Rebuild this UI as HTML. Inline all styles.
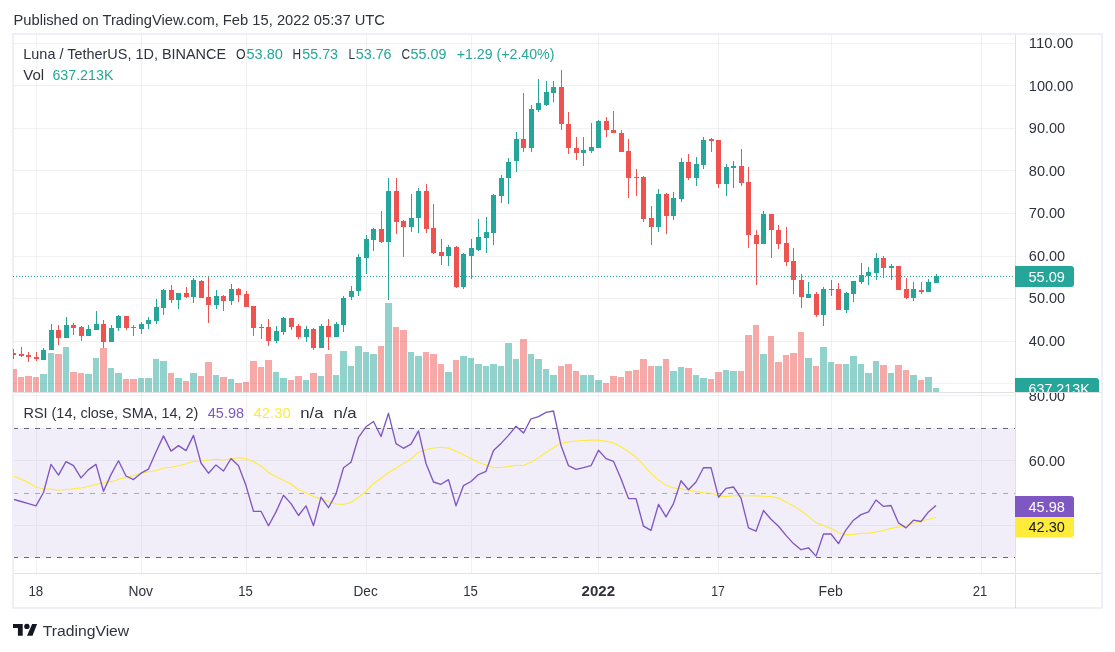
<!DOCTYPE html>
<html><head><meta charset="utf-8"><style>
html,body{margin:0;padding:0;background:#fff;width:1115px;height:652px;overflow:hidden;position:relative}
svg text{font-family:"Liberation Sans", sans-serif}
</style></head><body>
<svg width="1115" height="652" viewBox="0 0 1115 652" style="position:absolute;left:0;top:0;will-change:transform" shape-rendering="crispEdges"><rect x="0" y="0" width="1115" height="652" fill="#ffffff"/><rect x="14" y="428" width="1001" height="130" fill="#f2eef9"/><line x1="14" y1="43.5" x2="1015" y2="43.5" stroke="rgba(42,46,57,0.065)" stroke-width="1"/><line x1="14" y1="85.5" x2="1015" y2="85.5" stroke="rgba(42,46,57,0.065)" stroke-width="1"/><line x1="14" y1="128.5" x2="1015" y2="128.5" stroke="rgba(42,46,57,0.065)" stroke-width="1"/><line x1="14" y1="170.5" x2="1015" y2="170.5" stroke="rgba(42,46,57,0.065)" stroke-width="1"/><line x1="14" y1="213.5" x2="1015" y2="213.5" stroke="rgba(42,46,57,0.065)" stroke-width="1"/><line x1="14" y1="256.5" x2="1015" y2="256.5" stroke="rgba(42,46,57,0.065)" stroke-width="1"/><line x1="14" y1="298.5" x2="1015" y2="298.5" stroke="rgba(42,46,57,0.065)" stroke-width="1"/><line x1="14" y1="341.5" x2="1015" y2="341.5" stroke="rgba(42,46,57,0.065)" stroke-width="1"/><line x1="14" y1="383.5" x2="1015" y2="383.5" stroke="rgba(42,46,57,0.065)" stroke-width="1"/><line x1="14" y1="395.5" x2="1015" y2="395.5" stroke="rgba(42,46,57,0.065)" stroke-width="1"/><line x1="14" y1="460.5" x2="1015" y2="460.5" stroke="#e6e2ee" stroke-width="1"/><line x1="14" y1="525.5" x2="1015" y2="525.5" stroke="#e6e2ee" stroke-width="1"/><line x1="36.5" y1="35" x2="36.5" y2="573" stroke="rgba(42,46,57,0.065)" stroke-width="1"/><line x1="141.5" y1="35" x2="141.5" y2="573" stroke="rgba(42,46,57,0.065)" stroke-width="1"/><line x1="246.5" y1="35" x2="246.5" y2="573" stroke="rgba(42,46,57,0.065)" stroke-width="1"/><line x1="366.5" y1="35" x2="366.5" y2="573" stroke="rgba(42,46,57,0.065)" stroke-width="1"/><line x1="471.5" y1="35" x2="471.5" y2="573" stroke="rgba(42,46,57,0.065)" stroke-width="1"/><line x1="598.5" y1="35" x2="598.5" y2="573" stroke="rgba(42,46,57,0.065)" stroke-width="1"/><line x1="718.5" y1="35" x2="718.5" y2="573" stroke="rgba(42,46,57,0.065)" stroke-width="1"/><line x1="831.5" y1="35" x2="831.5" y2="573" stroke="rgba(42,46,57,0.065)" stroke-width="1"/><line x1="981.5" y1="35" x2="981.5" y2="573" stroke="rgba(42,46,57,0.065)" stroke-width="1"/><line x1="36.5" y1="428" x2="36.5" y2="558" stroke="#e6e2ee" stroke-width="1"/><line x1="141.5" y1="428" x2="141.5" y2="558" stroke="#e6e2ee" stroke-width="1"/><line x1="246.5" y1="428" x2="246.5" y2="558" stroke="#e6e2ee" stroke-width="1"/><line x1="366.5" y1="428" x2="366.5" y2="558" stroke="#e6e2ee" stroke-width="1"/><line x1="471.5" y1="428" x2="471.5" y2="558" stroke="#e6e2ee" stroke-width="1"/><line x1="598.5" y1="428" x2="598.5" y2="558" stroke="#e6e2ee" stroke-width="1"/><line x1="718.5" y1="428" x2="718.5" y2="558" stroke="#e6e2ee" stroke-width="1"/><line x1="831.5" y1="428" x2="831.5" y2="558" stroke="#e6e2ee" stroke-width="1"/><line x1="981.5" y1="428" x2="981.5" y2="558" stroke="#e6e2ee" stroke-width="1"/><line x1="1015.5" y1="35" x2="1015.5" y2="608" stroke="#e0e1e6" stroke-width="1"/><line x1="14" y1="392.5" x2="1101" y2="392.5" stroke="#e0e1e6" stroke-width="1"/><line x1="14" y1="573.5" x2="1101" y2="573.5" stroke="#e0e1e6" stroke-width="1"/><defs><clipPath id="cm"><rect x="13" y="35" width="1002" height="357"/></clipPath><clipPath id="cr"><rect x="14" y="393" width="1001" height="180"/></clipPath><clipPath id="ca"><rect x="1015" y="35" width="87" height="357"/></clipPath><clipPath id="cra"><rect x="1016" y="393" width="86" height="180"/></clipPath></defs><g clip-path="url(#cm)"><rect x="10" y="369" width="7" height="23" fill="rgba(239,83,80,0.5)"/><rect x="18" y="377" width="6" height="15" fill="rgba(239,83,80,0.5)"/><rect x="25" y="376" width="7" height="16" fill="rgba(239,83,80,0.5)"/><rect x="33" y="377" width="6" height="15" fill="rgba(239,83,80,0.5)"/><rect x="40" y="374" width="7" height="18" fill="rgba(38,166,154,0.5)"/><rect x="48" y="353" width="6" height="39" fill="rgba(38,166,154,0.5)"/><rect x="55" y="354" width="7" height="38" fill="rgba(239,83,80,0.5)"/><rect x="63" y="347" width="6" height="45" fill="rgba(38,166,154,0.5)"/><rect x="70" y="372" width="7" height="20" fill="rgba(239,83,80,0.5)"/><rect x="78" y="373" width="6" height="19" fill="rgba(239,83,80,0.5)"/><rect x="85" y="374" width="7" height="18" fill="rgba(38,166,154,0.5)"/><rect x="93" y="358" width="6" height="34" fill="rgba(38,166,154,0.5)"/><rect x="100" y="348" width="7" height="44" fill="rgba(239,83,80,0.5)"/><rect x="108" y="368" width="6" height="24" fill="rgba(38,166,154,0.5)"/><rect x="115" y="373" width="7" height="19" fill="rgba(38,166,154,0.5)"/><rect x="123" y="379" width="6" height="13" fill="rgba(239,83,80,0.5)"/><rect x="130" y="379" width="7" height="13" fill="rgba(239,83,80,0.5)"/><rect x="138" y="378" width="6" height="14" fill="rgba(38,166,154,0.5)"/><rect x="145" y="378" width="7" height="14" fill="rgba(38,166,154,0.5)"/><rect x="153" y="359" width="6" height="33" fill="rgba(38,166,154,0.5)"/><rect x="160" y="361" width="7" height="31" fill="rgba(38,166,154,0.5)"/><rect x="168" y="373" width="6" height="19" fill="rgba(239,83,80,0.5)"/><rect x="175" y="378" width="7" height="14" fill="rgba(38,166,154,0.5)"/><rect x="183" y="381" width="6" height="11" fill="rgba(239,83,80,0.5)"/><rect x="190" y="373" width="7" height="19" fill="rgba(38,166,154,0.5)"/><rect x="198" y="376" width="6" height="16" fill="rgba(239,83,80,0.5)"/><rect x="205" y="362" width="7" height="30" fill="rgba(239,83,80,0.5)"/><rect x="213" y="375" width="6" height="17" fill="rgba(38,166,154,0.5)"/><rect x="220" y="377" width="7" height="15" fill="rgba(239,83,80,0.5)"/><rect x="228" y="379" width="6" height="13" fill="rgba(38,166,154,0.5)"/><rect x="235" y="383" width="7" height="9" fill="rgba(239,83,80,0.5)"/><rect x="243" y="382" width="6" height="10" fill="rgba(239,83,80,0.5)"/><rect x="250" y="361" width="7" height="31" fill="rgba(239,83,80,0.5)"/><rect x="258" y="367" width="6" height="25" fill="rgba(239,83,80,0.5)"/><rect x="265" y="360" width="7" height="32" fill="rgba(239,83,80,0.5)"/><rect x="273" y="372" width="6" height="20" fill="rgba(38,166,154,0.5)"/><rect x="280" y="378" width="7" height="14" fill="rgba(38,166,154,0.5)"/><rect x="288" y="380" width="6" height="12" fill="rgba(239,83,80,0.5)"/><rect x="295" y="376" width="7" height="16" fill="rgba(239,83,80,0.5)"/><rect x="303" y="380" width="6" height="12" fill="rgba(38,166,154,0.5)"/><rect x="310" y="373" width="7" height="19" fill="rgba(239,83,80,0.5)"/><rect x="318" y="376" width="6" height="16" fill="rgba(38,166,154,0.5)"/><rect x="325" y="354" width="7" height="38" fill="rgba(239,83,80,0.5)"/><rect x="333" y="375" width="6" height="17" fill="rgba(38,166,154,0.5)"/><rect x="340" y="351" width="7" height="41" fill="rgba(38,166,154,0.5)"/><rect x="348" y="366" width="6" height="26" fill="rgba(38,166,154,0.5)"/><rect x="355" y="346" width="7" height="46" fill="rgba(38,166,154,0.5)"/><rect x="363" y="352" width="6" height="40" fill="rgba(38,166,154,0.5)"/><rect x="370" y="354" width="7" height="38" fill="rgba(38,166,154,0.5)"/><rect x="378" y="346" width="6" height="46" fill="rgba(239,83,80,0.5)"/><rect x="385" y="303" width="7" height="89" fill="rgba(38,166,154,0.5)"/><rect x="393" y="327" width="6" height="65" fill="rgba(239,83,80,0.5)"/><rect x="400" y="330" width="7" height="62" fill="rgba(239,83,80,0.5)"/><rect x="408" y="352" width="6" height="40" fill="rgba(38,166,154,0.5)"/><rect x="415" y="356" width="7" height="36" fill="rgba(38,166,154,0.5)"/><rect x="423" y="352" width="6" height="40" fill="rgba(239,83,80,0.5)"/><rect x="430" y="354" width="7" height="38" fill="rgba(239,83,80,0.5)"/><rect x="438" y="364" width="6" height="28" fill="rgba(239,83,80,0.5)"/><rect x="445" y="372" width="7" height="20" fill="rgba(38,166,154,0.5)"/><rect x="453" y="360" width="6" height="32" fill="rgba(239,83,80,0.5)"/><rect x="460" y="356" width="7" height="36" fill="rgba(38,166,154,0.5)"/><rect x="468" y="358" width="6" height="34" fill="rgba(38,166,154,0.5)"/><rect x="475" y="364" width="7" height="28" fill="rgba(38,166,154,0.5)"/><rect x="483" y="366" width="6" height="26" fill="rgba(38,166,154,0.5)"/><rect x="490" y="364" width="7" height="28" fill="rgba(38,166,154,0.5)"/><rect x="498" y="366" width="6" height="26" fill="rgba(38,166,154,0.5)"/><rect x="505" y="343" width="7" height="49" fill="rgba(38,166,154,0.5)"/><rect x="513" y="359" width="6" height="33" fill="rgba(38,166,154,0.5)"/><rect x="520" y="339" width="7" height="53" fill="rgba(239,83,80,0.5)"/><rect x="528" y="354" width="6" height="38" fill="rgba(38,166,154,0.5)"/><rect x="535" y="359" width="7" height="33" fill="rgba(38,166,154,0.5)"/><rect x="543" y="369" width="6" height="23" fill="rgba(38,166,154,0.5)"/><rect x="550" y="375" width="7" height="17" fill="rgba(38,166,154,0.5)"/><rect x="558" y="366" width="6" height="26" fill="rgba(239,83,80,0.5)"/><rect x="565" y="364" width="7" height="28" fill="rgba(239,83,80,0.5)"/><rect x="573" y="371" width="6" height="21" fill="rgba(239,83,80,0.5)"/><rect x="580" y="375" width="7" height="17" fill="rgba(38,166,154,0.5)"/><rect x="588" y="375" width="6" height="17" fill="rgba(38,166,154,0.5)"/><rect x="595" y="380" width="7" height="12" fill="rgba(38,166,154,0.5)"/><rect x="603" y="383" width="6" height="9" fill="rgba(239,83,80,0.5)"/><rect x="610" y="376" width="7" height="16" fill="rgba(239,83,80,0.5)"/><rect x="618" y="377" width="6" height="15" fill="rgba(239,83,80,0.5)"/><rect x="625" y="371" width="7" height="21" fill="rgba(239,83,80,0.5)"/><rect x="633" y="370" width="6" height="22" fill="rgba(239,83,80,0.5)"/><rect x="640" y="359" width="7" height="33" fill="rgba(239,83,80,0.5)"/><rect x="648" y="366" width="6" height="26" fill="rgba(239,83,80,0.5)"/><rect x="655" y="366" width="7" height="26" fill="rgba(38,166,154,0.5)"/><rect x="663" y="359" width="6" height="33" fill="rgba(239,83,80,0.5)"/><rect x="670" y="371" width="7" height="21" fill="rgba(38,166,154,0.5)"/><rect x="678" y="367" width="6" height="25" fill="rgba(38,166,154,0.5)"/><rect x="685" y="368" width="7" height="24" fill="rgba(239,83,80,0.5)"/><rect x="693" y="375" width="6" height="17" fill="rgba(38,166,154,0.5)"/><rect x="700" y="378" width="7" height="14" fill="rgba(38,166,154,0.5)"/><rect x="708" y="379" width="6" height="13" fill="rgba(239,83,80,0.5)"/><rect x="715" y="372" width="7" height="20" fill="rgba(239,83,80,0.5)"/><rect x="723" y="370" width="6" height="22" fill="rgba(38,166,154,0.5)"/><rect x="730" y="371" width="7" height="21" fill="rgba(38,166,154,0.5)"/><rect x="738" y="371" width="6" height="21" fill="rgba(239,83,80,0.5)"/><rect x="745" y="335" width="7" height="57" fill="rgba(239,83,80,0.5)"/><rect x="753" y="325" width="6" height="67" fill="rgba(239,83,80,0.5)"/><rect x="760" y="354" width="7" height="38" fill="rgba(38,166,154,0.5)"/><rect x="768" y="336" width="6" height="56" fill="rgba(239,83,80,0.5)"/><rect x="775" y="362" width="7" height="30" fill="rgba(239,83,80,0.5)"/><rect x="783" y="355" width="6" height="37" fill="rgba(239,83,80,0.5)"/><rect x="790" y="353" width="7" height="39" fill="rgba(239,83,80,0.5)"/><rect x="798" y="332" width="6" height="60" fill="rgba(239,83,80,0.5)"/><rect x="805" y="358" width="7" height="34" fill="rgba(38,166,154,0.5)"/><rect x="813" y="366" width="6" height="26" fill="rgba(239,83,80,0.5)"/><rect x="820" y="347" width="7" height="45" fill="rgba(38,166,154,0.5)"/><rect x="828" y="362" width="6" height="30" fill="rgba(38,166,154,0.5)"/><rect x="835" y="364" width="7" height="28" fill="rgba(239,83,80,0.5)"/><rect x="843" y="364" width="6" height="28" fill="rgba(38,166,154,0.5)"/><rect x="850" y="356" width="7" height="36" fill="rgba(38,166,154,0.5)"/><rect x="858" y="364" width="6" height="28" fill="rgba(38,166,154,0.5)"/><rect x="865" y="373" width="7" height="19" fill="rgba(38,166,154,0.5)"/><rect x="873" y="361" width="6" height="31" fill="rgba(38,166,154,0.5)"/><rect x="880" y="365" width="7" height="27" fill="rgba(239,83,80,0.5)"/><rect x="888" y="373" width="6" height="19" fill="rgba(38,166,154,0.5)"/><rect x="895" y="365" width="7" height="27" fill="rgba(239,83,80,0.5)"/><rect x="903" y="370" width="6" height="22" fill="rgba(239,83,80,0.5)"/><rect x="910" y="375" width="7" height="17" fill="rgba(38,166,154,0.5)"/><rect x="918" y="380" width="6" height="12" fill="rgba(239,83,80,0.5)"/><rect x="925" y="377" width="7" height="15" fill="rgba(38,166,154,0.5)"/><rect x="933" y="388" width="6" height="4" fill="rgba(38,166,154,0.5)"/><line x1="13" y1="276.5" x2="1015" y2="276.5" stroke="#26a69a" stroke-width="1" stroke-dasharray="1 2"/><rect x="13" y="349" width="1" height="10" fill="#ef5350"/><rect x="14" y="353" width="2" height="2" fill="#ef5350"/><rect x="21" y="347" width="1" height="10" fill="#ef5350"/><rect x="19" y="354" width="5" height="2" fill="#ef5350"/><rect x="28" y="352" width="1" height="10" fill="#ef5350"/><rect x="26" y="355" width="5" height="2" fill="#ef5350"/><rect x="36" y="352" width="1" height="9" fill="#ef5350"/><rect x="34" y="357" width="5" height="2" fill="#ef5350"/><rect x="43" y="348" width="1" height="12" fill="#26a69a"/><rect x="41" y="350" width="5" height="10" fill="#26a69a"/><rect x="51" y="324" width="1" height="26" fill="#26a69a"/><rect x="49" y="330" width="5" height="20" fill="#26a69a"/><rect x="58" y="325" width="1" height="20" fill="#ef5350"/><rect x="56" y="330" width="5" height="8" fill="#ef5350"/><rect x="66" y="317" width="1" height="21" fill="#26a69a"/><rect x="64" y="325" width="5" height="13" fill="#26a69a"/><rect x="73" y="323" width="1" height="12" fill="#ef5350"/><rect x="71" y="325" width="5" height="3" fill="#ef5350"/><rect x="81" y="326" width="1" height="15" fill="#ef5350"/><rect x="79" y="327" width="5" height="9" fill="#ef5350"/><rect x="88" y="325" width="1" height="11" fill="#26a69a"/><rect x="86" y="329" width="5" height="7" fill="#26a69a"/><rect x="96" y="311" width="1" height="19" fill="#26a69a"/><rect x="94" y="324" width="5" height="6" fill="#26a69a"/><rect x="103" y="320" width="1" height="28" fill="#ef5350"/><rect x="101" y="324" width="5" height="18" fill="#ef5350"/><rect x="111" y="325" width="1" height="17" fill="#26a69a"/><rect x="109" y="328" width="5" height="14" fill="#26a69a"/><rect x="118" y="315" width="1" height="16" fill="#26a69a"/><rect x="116" y="316" width="5" height="12" fill="#26a69a"/><rect x="126" y="316" width="1" height="14" fill="#ef5350"/><rect x="124" y="316" width="5" height="12" fill="#ef5350"/><rect x="133" y="325" width="1" height="11" fill="#ef5350"/><rect x="131" y="327" width="5" height="1" fill="#ef5350"/><rect x="141" y="322" width="1" height="12" fill="#26a69a"/><rect x="139" y="324" width="5" height="5" fill="#26a69a"/><rect x="148" y="317" width="1" height="12" fill="#26a69a"/><rect x="146" y="320" width="5" height="4" fill="#26a69a"/><rect x="156" y="299" width="1" height="25" fill="#26a69a"/><rect x="154" y="307" width="5" height="14" fill="#26a69a"/><rect x="163" y="289" width="1" height="26" fill="#26a69a"/><rect x="161" y="290" width="5" height="18" fill="#26a69a"/><rect x="171" y="285" width="1" height="18" fill="#ef5350"/><rect x="169" y="290" width="5" height="10" fill="#ef5350"/><rect x="178" y="293" width="1" height="16" fill="#26a69a"/><rect x="176" y="293" width="5" height="7" fill="#26a69a"/><rect x="186" y="287" width="1" height="11" fill="#ef5350"/><rect x="184" y="293" width="5" height="4" fill="#ef5350"/><rect x="193" y="278" width="1" height="25" fill="#26a69a"/><rect x="191" y="280" width="5" height="17" fill="#26a69a"/><rect x="201" y="280" width="1" height="18" fill="#ef5350"/><rect x="199" y="281" width="5" height="17" fill="#ef5350"/><rect x="208" y="277" width="1" height="46" fill="#ef5350"/><rect x="206" y="297" width="5" height="8" fill="#ef5350"/><rect x="216" y="290" width="1" height="19" fill="#26a69a"/><rect x="214" y="296" width="5" height="9" fill="#26a69a"/><rect x="223" y="295" width="1" height="16" fill="#ef5350"/><rect x="221" y="296" width="5" height="5" fill="#ef5350"/><rect x="231" y="284" width="1" height="21" fill="#26a69a"/><rect x="229" y="289" width="5" height="12" fill="#26a69a"/><rect x="238" y="288" width="1" height="14" fill="#ef5350"/><rect x="236" y="289" width="5" height="6" fill="#ef5350"/><rect x="246" y="291" width="1" height="16" fill="#ef5350"/><rect x="244" y="294" width="5" height="13" fill="#ef5350"/><rect x="253" y="306" width="1" height="30" fill="#ef5350"/><rect x="251" y="306" width="5" height="22" fill="#ef5350"/><rect x="261" y="324" width="1" height="15" fill="#ef5350"/><rect x="259" y="327" width="5" height="1" fill="#ef5350"/><rect x="268" y="319" width="1" height="27" fill="#ef5350"/><rect x="266" y="327" width="5" height="14" fill="#ef5350"/><rect x="276" y="326" width="1" height="17" fill="#26a69a"/><rect x="274" y="331" width="5" height="10" fill="#26a69a"/><rect x="283" y="317" width="1" height="18" fill="#26a69a"/><rect x="281" y="318" width="5" height="14" fill="#26a69a"/><rect x="291" y="318" width="1" height="12" fill="#ef5350"/><rect x="289" y="318" width="5" height="9" fill="#ef5350"/><rect x="298" y="324" width="1" height="15" fill="#ef5350"/><rect x="296" y="326" width="5" height="11" fill="#ef5350"/><rect x="306" y="326" width="1" height="16" fill="#26a69a"/><rect x="304" y="329" width="5" height="8" fill="#26a69a"/><rect x="313" y="328" width="1" height="22" fill="#ef5350"/><rect x="311" y="329" width="5" height="19" fill="#ef5350"/><rect x="321" y="324" width="1" height="24" fill="#26a69a"/><rect x="319" y="326" width="5" height="22" fill="#26a69a"/><rect x="328" y="319" width="1" height="31" fill="#ef5350"/><rect x="326" y="326" width="5" height="11" fill="#ef5350"/><rect x="336" y="322" width="1" height="15" fill="#26a69a"/><rect x="334" y="324" width="5" height="13" fill="#26a69a"/><rect x="343" y="296" width="1" height="36" fill="#26a69a"/><rect x="341" y="298" width="5" height="27" fill="#26a69a"/><rect x="351" y="286" width="1" height="14" fill="#26a69a"/><rect x="349" y="291" width="5" height="6" fill="#26a69a"/><rect x="358" y="254" width="1" height="42" fill="#26a69a"/><rect x="356" y="257" width="5" height="34" fill="#26a69a"/><rect x="366" y="235" width="1" height="39" fill="#26a69a"/><rect x="364" y="239" width="5" height="19" fill="#26a69a"/><rect x="373" y="228" width="1" height="23" fill="#26a69a"/><rect x="371" y="229" width="5" height="11" fill="#26a69a"/><rect x="381" y="211" width="1" height="32" fill="#ef5350"/><rect x="379" y="229" width="5" height="13" fill="#ef5350"/><rect x="388" y="178" width="1" height="122" fill="#26a69a"/><rect x="386" y="191" width="5" height="51" fill="#26a69a"/><rect x="396" y="178" width="1" height="56" fill="#ef5350"/><rect x="394" y="191" width="5" height="31" fill="#ef5350"/><rect x="403" y="220" width="1" height="37" fill="#ef5350"/><rect x="401" y="221" width="5" height="6" fill="#ef5350"/><rect x="411" y="194" width="1" height="38" fill="#26a69a"/><rect x="409" y="218" width="5" height="9" fill="#26a69a"/><rect x="418" y="188" width="1" height="45" fill="#26a69a"/><rect x="416" y="191" width="5" height="27" fill="#26a69a"/><rect x="426" y="184" width="1" height="49" fill="#ef5350"/><rect x="424" y="191" width="5" height="38" fill="#ef5350"/><rect x="433" y="204" width="1" height="50" fill="#ef5350"/><rect x="431" y="228" width="5" height="25" fill="#ef5350"/><rect x="441" y="239" width="1" height="26" fill="#ef5350"/><rect x="439" y="252" width="5" height="4" fill="#ef5350"/><rect x="448" y="245" width="1" height="21" fill="#26a69a"/><rect x="446" y="247" width="5" height="9" fill="#26a69a"/><rect x="456" y="246" width="1" height="42" fill="#ef5350"/><rect x="454" y="247" width="5" height="40" fill="#ef5350"/><rect x="463" y="253" width="1" height="36" fill="#26a69a"/><rect x="461" y="254" width="5" height="33" fill="#26a69a"/><rect x="471" y="239" width="1" height="40" fill="#26a69a"/><rect x="469" y="248" width="5" height="8" fill="#26a69a"/><rect x="478" y="219" width="1" height="32" fill="#26a69a"/><rect x="476" y="237" width="5" height="13" fill="#26a69a"/><rect x="486" y="217" width="1" height="36" fill="#26a69a"/><rect x="484" y="232" width="5" height="6" fill="#26a69a"/><rect x="493" y="194" width="1" height="51" fill="#26a69a"/><rect x="491" y="195" width="5" height="38" fill="#26a69a"/><rect x="501" y="175" width="1" height="28" fill="#26a69a"/><rect x="499" y="178" width="5" height="18" fill="#26a69a"/><rect x="508" y="158" width="1" height="46" fill="#26a69a"/><rect x="506" y="162" width="5" height="16" fill="#26a69a"/><rect x="516" y="132" width="1" height="40" fill="#26a69a"/><rect x="514" y="139" width="5" height="22" fill="#26a69a"/><rect x="523" y="93" width="1" height="59" fill="#ef5350"/><rect x="521" y="139" width="5" height="9" fill="#ef5350"/><rect x="531" y="105" width="1" height="47" fill="#26a69a"/><rect x="529" y="109" width="5" height="39" fill="#26a69a"/><rect x="538" y="79" width="1" height="33" fill="#26a69a"/><rect x="536" y="103" width="5" height="7" fill="#26a69a"/><rect x="546" y="81" width="1" height="25" fill="#26a69a"/><rect x="544" y="92" width="5" height="13" fill="#26a69a"/><rect x="553" y="81" width="1" height="21" fill="#26a69a"/><rect x="551" y="87" width="5" height="6" fill="#26a69a"/><rect x="561" y="70" width="1" height="60" fill="#ef5350"/><rect x="559" y="87" width="5" height="37" fill="#ef5350"/><rect x="568" y="112" width="1" height="42" fill="#ef5350"/><rect x="566" y="124" width="5" height="24" fill="#ef5350"/><rect x="576" y="137" width="1" height="23" fill="#ef5350"/><rect x="574" y="148" width="5" height="5" fill="#ef5350"/><rect x="583" y="137" width="1" height="29" fill="#26a69a"/><rect x="581" y="150" width="5" height="3" fill="#26a69a"/><rect x="591" y="123" width="1" height="30" fill="#26a69a"/><rect x="589" y="147" width="5" height="4" fill="#26a69a"/><rect x="598" y="120" width="1" height="28" fill="#26a69a"/><rect x="596" y="121" width="5" height="27" fill="#26a69a"/><rect x="606" y="117" width="1" height="20" fill="#ef5350"/><rect x="604" y="121" width="5" height="9" fill="#ef5350"/><rect x="613" y="111" width="1" height="22" fill="#ef5350"/><rect x="611" y="130" width="5" height="3" fill="#ef5350"/><rect x="621" y="130" width="1" height="22" fill="#ef5350"/><rect x="619" y="133" width="5" height="19" fill="#ef5350"/><rect x="628" y="139" width="1" height="59" fill="#ef5350"/><rect x="626" y="151" width="5" height="27" fill="#ef5350"/><rect x="636" y="169" width="1" height="27" fill="#ef5350"/><rect x="634" y="177" width="5" height="1" fill="#ef5350"/><rect x="643" y="176" width="1" height="46" fill="#ef5350"/><rect x="641" y="177" width="5" height="42" fill="#ef5350"/><rect x="651" y="206" width="1" height="39" fill="#ef5350"/><rect x="649" y="218" width="5" height="9" fill="#ef5350"/><rect x="658" y="189" width="1" height="43" fill="#26a69a"/><rect x="656" y="194" width="5" height="33" fill="#26a69a"/><rect x="666" y="193" width="1" height="41" fill="#ef5350"/><rect x="664" y="194" width="5" height="22" fill="#ef5350"/><rect x="673" y="192" width="1" height="28" fill="#26a69a"/><rect x="671" y="198" width="5" height="18" fill="#26a69a"/><rect x="681" y="158" width="1" height="44" fill="#26a69a"/><rect x="679" y="162" width="5" height="37" fill="#26a69a"/><rect x="688" y="154" width="1" height="26" fill="#ef5350"/><rect x="686" y="162" width="5" height="16" fill="#ef5350"/><rect x="696" y="157" width="1" height="29" fill="#26a69a"/><rect x="694" y="164" width="5" height="14" fill="#26a69a"/><rect x="703" y="137" width="1" height="32" fill="#26a69a"/><rect x="701" y="140" width="5" height="25" fill="#26a69a"/><rect x="711" y="138" width="1" height="14" fill="#ef5350"/><rect x="709" y="139" width="5" height="2" fill="#ef5350"/><rect x="718" y="140" width="1" height="48" fill="#ef5350"/><rect x="716" y="140" width="5" height="44" fill="#ef5350"/><rect x="726" y="164" width="1" height="32" fill="#26a69a"/><rect x="724" y="167" width="5" height="17" fill="#26a69a"/><rect x="733" y="161" width="1" height="27" fill="#26a69a"/><rect x="731" y="166" width="5" height="2" fill="#26a69a"/><rect x="741" y="149" width="1" height="37" fill="#ef5350"/><rect x="739" y="166" width="5" height="17" fill="#ef5350"/><rect x="748" y="167" width="1" height="81" fill="#ef5350"/><rect x="746" y="182" width="5" height="53" fill="#ef5350"/><rect x="756" y="230" width="1" height="55" fill="#ef5350"/><rect x="754" y="235" width="5" height="9" fill="#ef5350"/><rect x="763" y="211" width="1" height="33" fill="#26a69a"/><rect x="761" y="214" width="5" height="30" fill="#26a69a"/><rect x="771" y="214" width="1" height="44" fill="#ef5350"/><rect x="769" y="214" width="5" height="16" fill="#ef5350"/><rect x="778" y="225" width="1" height="24" fill="#ef5350"/><rect x="776" y="230" width="5" height="14" fill="#ef5350"/><rect x="786" y="227" width="1" height="39" fill="#ef5350"/><rect x="784" y="243" width="5" height="19" fill="#ef5350"/><rect x="793" y="248" width="1" height="46" fill="#ef5350"/><rect x="791" y="261" width="5" height="19" fill="#ef5350"/><rect x="801" y="274" width="1" height="34" fill="#ef5350"/><rect x="799" y="280" width="5" height="17" fill="#ef5350"/><rect x="808" y="282" width="1" height="16" fill="#26a69a"/><rect x="806" y="294" width="5" height="4" fill="#26a69a"/><rect x="816" y="292" width="1" height="25" fill="#ef5350"/><rect x="814" y="294" width="5" height="21" fill="#ef5350"/><rect x="823" y="287" width="1" height="39" fill="#26a69a"/><rect x="821" y="289" width="5" height="26" fill="#26a69a"/><rect x="831" y="280" width="1" height="16" fill="#26a69a"/><rect x="829" y="289" width="5" height="1" fill="#26a69a"/><rect x="838" y="283" width="1" height="27" fill="#ef5350"/><rect x="836" y="289" width="5" height="21" fill="#ef5350"/><rect x="846" y="292" width="1" height="21" fill="#26a69a"/><rect x="844" y="293" width="5" height="17" fill="#26a69a"/><rect x="853" y="281" width="1" height="21" fill="#26a69a"/><rect x="851" y="281" width="5" height="13" fill="#26a69a"/><rect x="861" y="263" width="1" height="21" fill="#26a69a"/><rect x="859" y="275" width="5" height="7" fill="#26a69a"/><rect x="868" y="267" width="1" height="18" fill="#26a69a"/><rect x="866" y="272" width="5" height="4" fill="#26a69a"/><rect x="876" y="253" width="1" height="27" fill="#26a69a"/><rect x="874" y="258" width="5" height="15" fill="#26a69a"/><rect x="883" y="256" width="1" height="22" fill="#ef5350"/><rect x="881" y="258" width="5" height="10" fill="#ef5350"/><rect x="891" y="264" width="1" height="16" fill="#26a69a"/><rect x="889" y="266" width="5" height="2" fill="#26a69a"/><rect x="898" y="266" width="1" height="24" fill="#ef5350"/><rect x="896" y="266" width="5" height="24" fill="#ef5350"/><rect x="906" y="278" width="1" height="21" fill="#ef5350"/><rect x="904" y="289" width="5" height="9" fill="#ef5350"/><rect x="913" y="282" width="1" height="19" fill="#26a69a"/><rect x="911" y="289" width="5" height="9" fill="#26a69a"/><rect x="921" y="282" width="1" height="12" fill="#ef5350"/><rect x="919" y="290" width="5" height="2" fill="#ef5350"/><rect x="928" y="279" width="1" height="13" fill="#26a69a"/><rect x="926" y="282" width="5" height="10" fill="#26a69a"/><rect x="936" y="274" width="1" height="9" fill="#26a69a"/><rect x="934" y="276" width="5" height="7" fill="#26a69a"/></g><g clip-path="url(#cr)"><line x1="13" y1="428.5" x2="1015" y2="428.5" stroke="#66687a" stroke-width="1" stroke-dasharray="5 6"/><line x1="13" y1="493.5" x2="1015" y2="493.5" stroke="#a9a8b8" stroke-width="1" stroke-dasharray="5 6"/><line x1="13" y1="557.5" x2="1015" y2="557.5" stroke="#66687a" stroke-width="1" stroke-dasharray="5 6"/><path d="M13.3,476.0 L24.9,480.7 L35.9,487.0 L44.2,489.0 L51.1,489.0 L58.0,490.3 L71.8,489.0 L82.9,487.8 L96.7,484.3 L110.5,481.5 L111.0,481.9 L118.5,479.2 L126.0,477.4 L133.5,475.7 L141.0,473.3 L148.5,471.7 L156.0,470.8 L163.5,468.0 L171.0,467.2 L178.5,465.8 L186.0,463.8 L193.5,461.4 L201.0,461.3 L208.5,460.0 L216.0,459.3 L223.5,460.0 L231.0,458.8 L238.5,457.8 L246.0,458.7 L253.5,461.7 L261.0,465.9 L268.5,472.4 L276.0,476.7 L283.5,480.2 L291.0,484.0 L298.5,489.8 L306.0,492.8 L313.5,496.6 L321.0,498.9 L328.5,501.5 L336.0,504.0 L343.5,504.2 L351.0,502.5 L358.5,497.2 L366.0,491.2 L373.5,483.7 L381.0,478.3 L388.5,472.5 L396.0,468.2 L403.5,463.4 L411.0,459.0 L418.5,452.2 L426.0,449.8 L433.5,448.0 L441.0,447.3 L448.5,448.1 L456.0,451.3 L463.5,454.7 L471.0,458.6 L478.5,462.4 L486.0,464.9 L493.5,467.6 L501.0,467.5 L508.5,466.6 L516.0,465.3 L523.5,465.5 L531.0,462.3 L538.5,457.6 L546.0,452.5 L553.5,447.6 L561.0,443.3 L568.5,441.9 L576.0,441.0 L583.5,440.5 L591.0,440.1 L598.5,440.1 L606.0,441.2 L613.5,443.0 L621.0,446.8 L628.5,451.5 L636.0,457.2 L643.5,465.0 L651.0,473.4 L658.5,480.1 L666.0,485.2 L673.5,487.9 L681.0,488.7 L688.5,490.3 L696.0,491.4 L703.5,492.7 L711.0,493.3 L718.5,495.9 L726.0,496.6 L733.5,495.8 L741.0,495.7 L748.5,495.8 L756.0,495.9 L763.5,496.3 L771.0,496.5 L778.5,498.1 L786.0,502.0 L793.5,505.9 L801.0,510.7 L808.5,516.4 L816.0,522.7 L823.5,525.4 L831.0,528.6 L838.5,532.7 L846.0,534.9 L853.5,534.4 L861.0,533.2 L868.5,533.3 L876.0,531.9 L883.5,530.5 L891.0,528.4 L898.5,526.9 L906.0,525.3 L913.5,523.4 L921.0,520.9 L928.5,519.3 L936.0,517.3" fill="none" stroke="#ffeb3b" stroke-width="1.1" shape-rendering="geometricPrecision" stroke-linejoin="round"/><path d="M13.5,499.4 L21.0,501.5 L28.5,503.6 L36.0,505.8 L43.5,492.5 L51.0,464.4 L58.5,475.1 L66.0,461.6 L73.5,465.7 L81.0,477.9 L88.5,469.6 L96.0,464.4 L103.5,491.2 L111.0,474.6 L118.5,460.8 L126.0,476.0 L133.5,479.6 L141.0,473.2 L148.5,469.1 L156.0,452.0 L163.5,435.9 L171.0,451.1 L178.5,445.6 L186.0,450.6 L193.5,435.4 L201.0,463.0 L208.5,473.2 L216.0,464.9 L223.5,471.0 L231.0,458.6 L238.5,465.7 L246.0,485.6 L253.5,511.3 L261.0,511.3 L268.5,525.7 L276.0,511.9 L283.5,495.3 L291.0,503.6 L298.5,515.5 L306.0,505.8 L313.5,525.7 L321.0,497.2 L328.5,507.7 L336.0,493.9 L343.5,467.7 L351.0,462.2 L358.5,437.3 L366.0,426.8 L373.5,421.5 L381.0,436.5 L388.5,413.3 L396.0,443.6 L403.5,448.3 L411.0,444.2 L418.5,430.9 L426.0,463.5 L433.5,482.0 L441.0,484.3 L448.5,479.6 L456.0,505.8 L463.5,485.6 L471.0,481.5 L478.5,474.6 L486.0,471.3 L493.5,450.6 L501.0,443.4 L508.5,435.4 L516.0,426.2 L523.5,433.1 L531.0,418.8 L538.5,416.6 L546.0,412.4 L553.5,411.0 L561.0,445.6 L568.5,465.7 L576.0,469.4 L583.5,467.7 L591.0,465.7 L598.5,450.3 L606.0,458.6 L613.5,461.3 L621.0,478.7 L628.5,498.6 L636.0,498.6 L643.5,526.2 L651.0,530.4 L658.5,504.4 L666.0,516.9 L673.5,503.6 L681.0,480.7 L688.5,489.8 L696.0,482.0 L703.5,467.7 L711.0,467.7 L718.5,497.2 L726.0,488.4 L733.5,487.0 L741.0,498.1 L748.5,527.9 L756.0,531.2 L763.5,510.5 L771.0,519.3 L778.5,526.2 L786.0,535.4 L793.5,543.6 L801.0,549.7 L808.5,547.8 L816.0,556.1 L823.5,534.0 L831.0,534.0 L838.5,543.6 L846.0,529.8 L853.5,520.2 L861.0,514.6 L868.5,511.9 L876.0,500.0 L883.5,506.4 L891.0,505.5 L898.5,522.9 L906.0,527.9 L913.5,520.2 L921.0,521.5 L928.5,511.9 L936.0,505.5" fill="none" stroke="#7e57c2" stroke-width="1.35" shape-rendering="geometricPrecision" stroke-linejoin="round"/></g><g font-family='"Liberation Sans", sans-serif'><text x="13.5" y="24.8" fill="#2e323d" font-size="14.7" font-weight="normal" text-anchor="start" textLength="371.5" lengthAdjust="spacingAndGlyphs" shape-rendering="geometricPrecision">Published on TradingView.com, Feb 15, 2022 05:37 UTC</text><text x="23.3" y="59" fill="#2e323d" font-size="15" font-weight="normal" text-anchor="start" textLength="202.8" lengthAdjust="spacingAndGlyphs" shape-rendering="geometricPrecision">Luna / TetherUS, 1D, BINANCE</text><text x="236.1" y="59" fill="#2e323d" font-size="15" font-weight="normal" text-anchor="start" textLength="9.6" lengthAdjust="spacingAndGlyphs" shape-rendering="geometricPrecision">O</text><text x="246.5" y="59" fill="#26a69a" font-size="15" font-weight="normal" text-anchor="start" textLength="36.4" lengthAdjust="spacingAndGlyphs" shape-rendering="geometricPrecision">53.80</text><text x="292.4" y="59" fill="#2e323d" font-size="15" font-weight="normal" text-anchor="start" textLength="8.6" lengthAdjust="spacingAndGlyphs" shape-rendering="geometricPrecision">H</text><text x="302.2" y="59" fill="#26a69a" font-size="15" font-weight="normal" text-anchor="start" textLength="35.9" lengthAdjust="spacingAndGlyphs" shape-rendering="geometricPrecision">55.73</text><text x="348.5" y="59" fill="#2e323d" font-size="15" font-weight="normal" text-anchor="start" textLength="6.6" lengthAdjust="spacingAndGlyphs" shape-rendering="geometricPrecision">L</text><text x="355.7" y="59" fill="#26a69a" font-size="15" font-weight="normal" text-anchor="start" textLength="35.9" lengthAdjust="spacingAndGlyphs" shape-rendering="geometricPrecision">53.76</text><text x="401.5" y="59" fill="#2e323d" font-size="15" font-weight="normal" text-anchor="start" textLength="8.6" lengthAdjust="spacingAndGlyphs" shape-rendering="geometricPrecision">C</text><text x="410.5" y="59" fill="#26a69a" font-size="15" font-weight="normal" text-anchor="start" textLength="35.9" lengthAdjust="spacingAndGlyphs" shape-rendering="geometricPrecision">55.09</text><text x="456.8" y="59" fill="#26a69a" font-size="15" font-weight="normal" text-anchor="start" textLength="97.6" lengthAdjust="spacingAndGlyphs" shape-rendering="geometricPrecision">+1.29 (+2.40%)</text><text x="23.3" y="79.5" fill="#2e323d" font-size="15" font-weight="normal" text-anchor="start" shape-rendering="geometricPrecision">Vol</text><text x="52.4" y="79.5" fill="#26a69a" font-size="15" font-weight="normal" text-anchor="start" textLength="61" lengthAdjust="spacingAndGlyphs" shape-rendering="geometricPrecision">637.213K</text><text x="23.5" y="417.5" fill="#2e323d" font-size="15" font-weight="normal" text-anchor="start" textLength="174.8" lengthAdjust="spacingAndGlyphs" shape-rendering="geometricPrecision">RSI (14, close, SMA, 14, 2)</text><text x="207.8" y="417.5" fill="#7e57c2" font-size="15" font-weight="normal" text-anchor="start" textLength="36.2" lengthAdjust="spacingAndGlyphs" shape-rendering="geometricPrecision">45.98</text><text x="253.5" y="417.5" fill="#ffeb3b" font-size="15" font-weight="normal" text-anchor="start" textLength="37.2" lengthAdjust="spacingAndGlyphs" shape-rendering="geometricPrecision">42.30</text><text x="300.2" y="417.5" fill="#2e323d" font-size="15" font-weight="normal" text-anchor="start" textLength="23.3" lengthAdjust="spacingAndGlyphs" shape-rendering="geometricPrecision">n/a</text><text x="333.4" y="417.5" fill="#2e323d" font-size="15" font-weight="normal" text-anchor="start" textLength="23.3" lengthAdjust="spacingAndGlyphs" shape-rendering="geometricPrecision">n/a</text><text x="1028.8" y="48.2" fill="#2e323d" font-size="15" font-weight="normal" text-anchor="start" textLength="44.5" lengthAdjust="spacingAndGlyphs" clip-path="url(#ca)" shape-rendering="geometricPrecision">110.00</text><text x="1028.8" y="90.7" fill="#2e323d" font-size="15" font-weight="normal" text-anchor="start" textLength="44.5" lengthAdjust="spacingAndGlyphs" clip-path="url(#ca)" shape-rendering="geometricPrecision">100.00</text><text x="1028.8" y="133.2" fill="#2e323d" font-size="15" font-weight="normal" text-anchor="start" textLength="36.4" lengthAdjust="spacingAndGlyphs" clip-path="url(#ca)" shape-rendering="geometricPrecision">90.00</text><text x="1028.8" y="175.7" fill="#2e323d" font-size="15" font-weight="normal" text-anchor="start" textLength="36.4" lengthAdjust="spacingAndGlyphs" clip-path="url(#ca)" shape-rendering="geometricPrecision">80.00</text><text x="1028.8" y="218.2" fill="#2e323d" font-size="15" font-weight="normal" text-anchor="start" textLength="36.4" lengthAdjust="spacingAndGlyphs" clip-path="url(#ca)" shape-rendering="geometricPrecision">70.00</text><text x="1028.8" y="260.7" fill="#2e323d" font-size="15" font-weight="normal" text-anchor="start" textLength="36.4" lengthAdjust="spacingAndGlyphs" clip-path="url(#ca)" shape-rendering="geometricPrecision">60.00</text><text x="1028.8" y="303.2" fill="#2e323d" font-size="15" font-weight="normal" text-anchor="start" textLength="36.4" lengthAdjust="spacingAndGlyphs" clip-path="url(#ca)" shape-rendering="geometricPrecision">50.00</text><text x="1028.8" y="345.7" fill="#2e323d" font-size="15" font-weight="normal" text-anchor="start" textLength="36.4" lengthAdjust="spacingAndGlyphs" clip-path="url(#ca)" shape-rendering="geometricPrecision">40.00</text><path d="M1015,266 H1071 Q1074,266 1074,269 V284 Q1074,287 1071,287 H1015 Z" fill="#26a69a" shape-rendering="geometricPrecision"/><text x="1028.5" y="281.8" fill="#ffffff" font-size="15" font-weight="normal" text-anchor="start" textLength="36.4" lengthAdjust="spacingAndGlyphs" shape-rendering="geometricPrecision">55.09</text><g clip-path="url(#ca)"><path d="M1015,378 H1096 Q1099,378 1099,381 V396 Q1099,399 1096,399 H1015 Z" fill="#26a69a" shape-rendering="geometricPrecision"/></g><g clip-path="url(#ca)"><text x="1028.5" y="393.6" fill="#ffffff" font-size="15" font-weight="normal" text-anchor="start" textLength="61.3" lengthAdjust="spacingAndGlyphs" shape-rendering="geometricPrecision">637.213K</text></g><text x="1028.8" y="400.6" fill="#2e323d" font-size="15" font-weight="normal" text-anchor="start" textLength="36.4" lengthAdjust="spacingAndGlyphs" clip-path="url(#cra)" shape-rendering="geometricPrecision">80.00</text><text x="1028.8" y="465.8" fill="#2e323d" font-size="15" font-weight="normal" text-anchor="start" textLength="36.4" lengthAdjust="spacingAndGlyphs" clip-path="url(#cra)" shape-rendering="geometricPrecision">60.00</text><path d="M1015,496 H1071 Q1074,496 1074,499 V517 H1015 Z" fill="#7e57c2" shape-rendering="geometricPrecision"/><text x="1028.5" y="511.8" fill="#ffffff" font-size="15" font-weight="normal" text-anchor="start" textLength="36.4" lengthAdjust="spacingAndGlyphs" shape-rendering="geometricPrecision">45.98</text><path d="M1015,517 H1074 V534.5 Q1074,537.5 1071,537.5 H1015 Z" fill="#ffeb3b" shape-rendering="geometricPrecision"/><text x="1028.5" y="532.4" fill="#131722" font-size="15" font-weight="normal" text-anchor="start" textLength="36.4" lengthAdjust="spacingAndGlyphs" shape-rendering="geometricPrecision">42.30</text><text x="28.4" y="596.2" fill="#2e323d" font-size="15" font-weight="normal" text-anchor="start" textLength="14.8" lengthAdjust="spacingAndGlyphs" shape-rendering="geometricPrecision">18</text><text x="128.39999999999998" y="596.2" fill="#2e323d" font-size="15" font-weight="normal" text-anchor="start" textLength="24.6" lengthAdjust="spacingAndGlyphs" shape-rendering="geometricPrecision">Nov</text><text x="238.25" y="596.2" fill="#2e323d" font-size="15" font-weight="normal" text-anchor="start" textLength="14.5" lengthAdjust="spacingAndGlyphs" shape-rendering="geometricPrecision">15</text><text x="353.5" y="596.2" fill="#2e323d" font-size="15" font-weight="normal" text-anchor="start" textLength="24.2" lengthAdjust="spacingAndGlyphs" shape-rendering="geometricPrecision">Dec</text><text x="463.3" y="596.2" fill="#2e323d" font-size="15" font-weight="normal" text-anchor="start" textLength="14.6" lengthAdjust="spacingAndGlyphs" shape-rendering="geometricPrecision">15</text><text x="711.25" y="596.2" fill="#2e323d" font-size="15" font-weight="normal" text-anchor="start" textLength="13.5" lengthAdjust="spacingAndGlyphs" shape-rendering="geometricPrecision">17</text><text x="818.6" y="596.2" fill="#2e323d" font-size="15" font-weight="normal" text-anchor="start" textLength="24.2" lengthAdjust="spacingAndGlyphs" shape-rendering="geometricPrecision">Feb</text><text x="972.8000000000001" y="596.2" fill="#2e323d" font-size="15" font-weight="normal" text-anchor="start" textLength="14.6" lengthAdjust="spacingAndGlyphs" shape-rendering="geometricPrecision">21</text><text x="581.6" y="596.2" fill="#2e323d" font-size="15" font-weight="bold" text-anchor="start" textLength="33.4" lengthAdjust="spacingAndGlyphs" shape-rendering="geometricPrecision">2022</text><text x="42.8" y="636" fill="#2e323d" font-size="15.2" font-weight="normal" text-anchor="start" textLength="86.4" lengthAdjust="spacingAndGlyphs" shape-rendering="geometricPrecision">TradingView</text></g><g fill="#131722" shape-rendering="geometricPrecision"><path d="M13,624 H22.7 V635.8 H17.9 V628 H13 Z"/><circle cx="26.9" cy="626.4" r="2.7"/><path d="M32.1,624 H37.1 L32.5,635.8 H27 Z"/></g><rect x="13" y="34" width="1089" height="574" fill="none" stroke="rgba(60,80,140,0.085)" stroke-width="2"/></svg>
</body></html>
